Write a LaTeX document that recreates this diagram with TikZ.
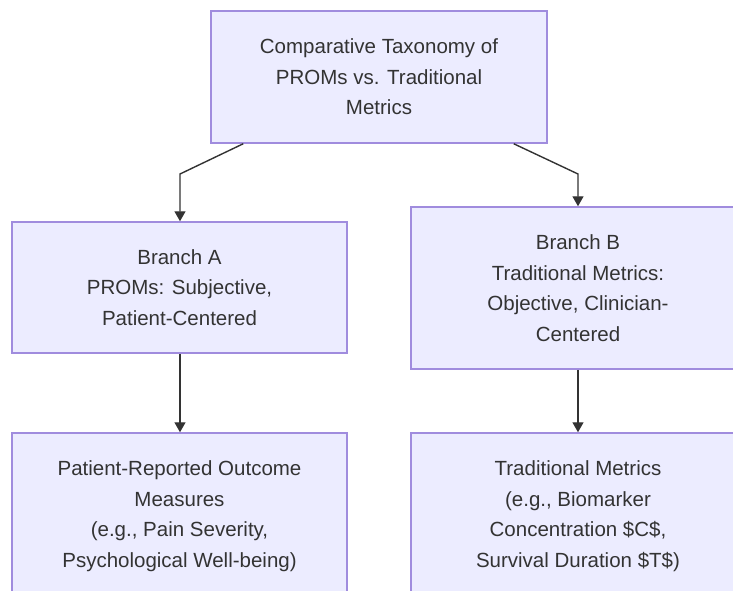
\documentclass[tikz,border=0pt]{standalone}
\usepackage{fontspec}
\setmainfont{Liberation Sans}
\usetikzlibrary{arrows.meta}
\definecolor{boxfill}{HTML}{ECECFF}
\definecolor{boxline}{HTML}{A08CDE}
\definecolor{txt}{HTML}{333333}
\begin{document}
\begin{tikzpicture}[x=1pt,y=-1pt,
  box/.style={draw=boxline, fill=boxfill, line width=1.5pt, align=center,
    text=txt, font=\fontsize{20.5}{30.5}\selectfont, inner sep=0pt},
  arr/.style={draw=txt, line width=1.4pt, -{Triangle[length=10pt,width=11pt]}}]
\useasboundingbox (0,0) rectangle (733,591);
\clip (0,0) rectangle (733,591);
\node[box, minimum width=336pt, minimum height=132pt] (top) at (379,77)
  {Comparative Taxonomy of\\PROMs vs. Traditional\\Metrics};
\node[box, minimum width=335pt, minimum height=131pt] (A) at (179.5,287.5)
  {Branch A\\PROMs: Subjective,\\Patient-Centered};
\node[box, minimum width=334pt, minimum height=162pt] (B) at (578,288)
  {Branch B\\Traditional Metrics:\\Objective, Clinician-\\Centered};
\node[box, minimum width=335pt, minimum height=166pt] (C) at (179.5,516)
  {Patient-Reported Outcome\\Measures\\(e.g., Pain Severity,\\Psychological Well-being)};
\node[box, minimum width=334pt, minimum height=166pt] (D) at (578,516)
  {Traditional Metrics\\(e.g., Biomarker\\Concentration \$C\$,\\Survival Duration \$T\$)};
\coordinate (k1) at (180,174);
\coordinate (k2) at (578,174);
\draw[arr] ([xshift=33pt]top.south west) -- (k1) -- (A.north -| k1);
\draw[arr] ([xshift=-34pt]top.south east) -- (k2) -- (B.north);
\draw[arr] (A.south -| k1) -- (C.north -| k1);
\draw[arr] (B.south) -- (D.north);
\end{tikzpicture}
\end{document}
